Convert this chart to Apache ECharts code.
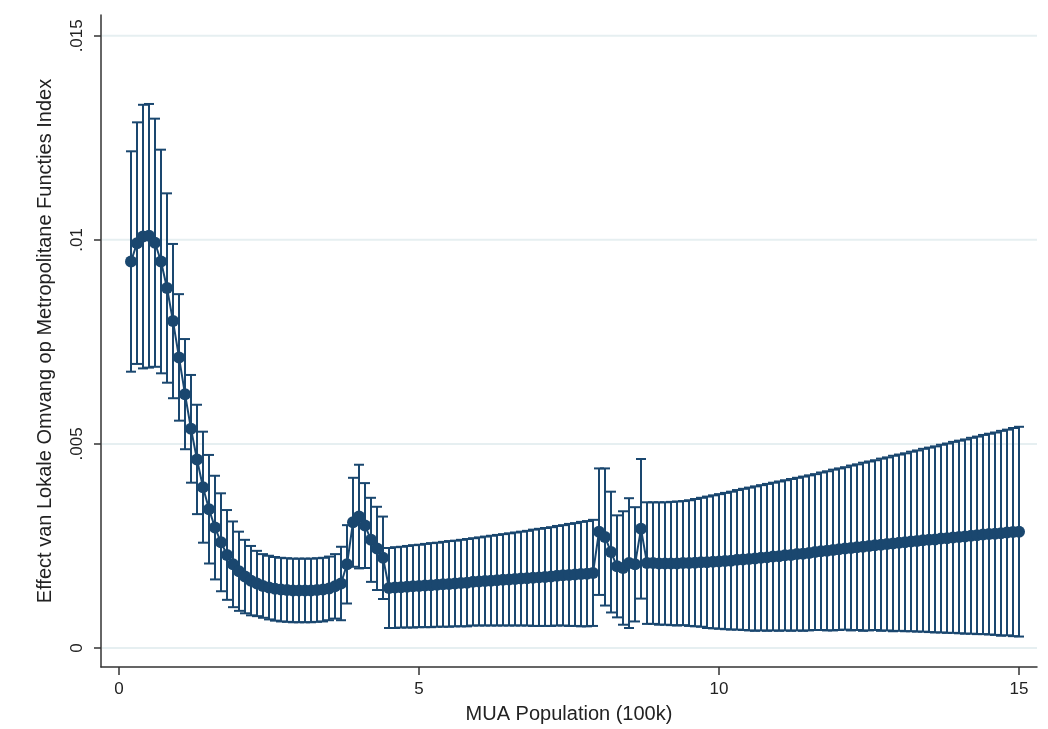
<!DOCTYPE html>
<html><head><meta charset="utf-8">
<script src="https://cdn.jsdelivr.net/npm/echarts@6/dist/echarts.min.js"></script>
<style>html,body{margin:0;padding:0;background:#fff}#c{width:1048px;height:729px}</style>
</head><body><div id="c"></div>
<script>
const xs = [0.2,0.3,0.4,0.5,0.6,0.7,0.8,0.9,1.0,
1.1,1.2,1.3,1.4,1.5,1.6,1.7,1.8,1.9,2.0,
2.1,2.2,2.3,2.4,2.5,2.6,2.7,2.8,2.9,3.0,
3.1,3.2,3.3,3.4,3.5,3.6,3.7,3.8,3.9,4.0,
4.1,4.2,4.3,4.4,4.5,4.6,4.7,4.8,4.9,5.0,
5.1,5.2,5.3,5.4,5.5,5.6,5.7,5.8,5.9,6.0,
6.1,6.2,6.3,6.4,6.5,6.6,6.7,6.8,6.9,7.0,
7.1,7.2,7.3,7.4,7.5,7.6,7.7,7.8,7.9,8.0,
8.1,8.2,8.3,8.4,8.5,8.6,8.7,8.8,8.9,9.0,
9.1,9.2,9.3,9.4,9.5,9.6,9.7,9.8,9.9,10.0,
10.1,10.2,10.3,10.4,10.5,10.6,10.7,10.8,10.9,11.0,
11.1,11.2,11.3,11.4,11.5,11.6,11.7,11.8,11.9,12.0,
12.1,12.2,12.3,12.4,12.5,12.6,12.7,12.8,12.9,13.0,
13.1,13.2,13.3,13.4,13.5,13.6,13.7,13.8,13.9,14.0,
14.1,14.2,14.3,14.4,14.5,14.6,14.7,14.8,14.9,15.0];

const est = [0.00947,0.00992,0.01008,0.01010,0.00993,0.00947,0.00882,0.00801,0.00712,
0.00622,0.00537,0.00462,0.00394,0.00340,0.00295,0.00259,0.00228,0.00205,0.00188,
0.00175,0.00165,0.00158,0.00152,0.00148,0.00145,0.00143,0.00142,0.00141,0.00141,
0.00141,0.00141,0.00142,0.00143,0.00146,0.00151,0.00158,0.00205,0.00308,0.00322,
0.00300,0.00265,0.00244,0.00221,0.00147,0.00148,0.00149,0.00150,0.00151,0.00152,
0.00153,0.00154,0.00155,0.00156,0.00157,0.00158,0.00159,0.00160,0.00162,0.00163,
0.00164,0.00165,0.00166,0.00167,0.00168,0.00169,0.00170,0.00171,0.00172,0.00173,
0.00174,0.00175,0.00177,0.00178,0.00179,0.00180,0.00181,0.00182,0.00184,0.00285,
0.00272,0.00235,0.00200,0.00196,0.00208,0.00205,0.00292,0.00208,0.00208,0.00207,
0.00207,0.00207,0.00207,0.00208,0.00208,0.00209,0.00210,0.00210,0.00211,0.00212,
0.00213,0.00214,0.00216,0.00217,0.00218,0.00219,0.00221,0.00222,0.00224,0.00225,
0.00227,0.00228,0.00230,0.00231,0.00233,0.00235,0.00237,0.00238,0.00240,0.00242,
0.00244,0.00245,0.00247,0.00248,0.00250,0.00252,0.00253,0.00255,0.00256,0.00258,
0.00259,0.00261,0.00262,0.00264,0.00265,0.00266,0.00268,0.00269,0.00271,0.00272,
0.00273,0.00275,0.00276,0.00278,0.00279,0.00280,0.00281,0.00283,0.00284,0.00285];

const upper = [0.01217,0.01288,0.01331,0.01333,0.01297,0.01221,0.01114,0.00990,0.00867,
0.00757,0.00669,0.00596,0.00530,0.00473,0.00422,0.00379,0.00338,0.00310,0.00285,
0.00265,0.00250,0.00238,0.00230,0.00226,0.00223,0.00221,0.00220,0.00219,0.00219,
0.00219,0.00219,0.00220,0.00221,0.00224,0.00230,0.00248,0.00301,0.00417,0.00449,
0.00404,0.00368,0.00346,0.00322,0.00245,0.00247,0.00248,0.00250,0.00252,0.00253,
0.00255,0.00257,0.00258,0.00260,0.00262,0.00263,0.00265,0.00267,0.00269,0.00271,
0.00273,0.00275,0.00277,0.00279,0.00281,0.00283,0.00285,0.00287,0.00290,0.00292,
0.00294,0.00296,0.00299,0.00301,0.00304,0.00306,0.00309,0.00311,0.00314,0.00440,
0.00440,0.00383,0.00325,0.00335,0.00367,0.00345,0.00463,0.00357,0.00357,0.00357,
0.00357,0.00358,0.00359,0.00360,0.00362,0.00365,0.00368,0.00371,0.00374,0.00377,
0.00380,0.00383,0.00387,0.00390,0.00393,0.00396,0.00399,0.00402,0.00405,0.00408,
0.00411,0.00414,0.00417,0.00420,0.00423,0.00426,0.00430,0.00433,0.00437,0.00440,
0.00443,0.00447,0.00450,0.00454,0.00457,0.00460,0.00464,0.00467,0.00471,0.00474,
0.00477,0.00481,0.00484,0.00488,0.00491,0.00494,0.00498,0.00501,0.00505,0.00508,
0.00511,0.00515,0.00518,0.00522,0.00525,0.00528,0.00532,0.00535,0.00539,0.00542];

const lower = [0.00677,0.00696,0.00685,0.00687,0.00689,0.00673,0.00650,0.00612,0.00557,
0.00487,0.00405,0.00328,0.00258,0.00207,0.00168,0.00139,0.00118,0.00100,0.00091,
0.00085,0.00080,0.00078,0.00074,0.00070,0.00067,0.00065,0.00064,0.00063,0.00063,
0.00063,0.00063,0.00064,0.00065,0.00068,0.00072,0.00068,0.00109,0.00199,0.00195,
0.00196,0.00162,0.00142,0.00120,0.00049,0.00049,0.00050,0.00050,0.00050,0.00051,
0.00051,0.00051,0.00052,0.00052,0.00052,0.00053,0.00053,0.00053,0.00055,0.00055,
0.00055,0.00055,0.00055,0.00055,0.00055,0.00055,0.00055,0.00055,0.00054,0.00054,
0.00054,0.00054,0.00055,0.00055,0.00054,0.00054,0.00053,0.00053,0.00054,0.00130,
0.00104,0.00087,0.00075,0.00057,0.00049,0.00065,0.00121,0.00059,0.00059,0.00057,
0.00057,0.00056,0.00055,0.00056,0.00054,0.00053,0.00052,0.00049,0.00048,0.00047,
0.00046,0.00045,0.00045,0.00044,0.00043,0.00042,0.00043,0.00042,0.00043,0.00042,
0.00043,0.00042,0.00043,0.00042,0.00043,0.00044,0.00044,0.00043,0.00043,0.00044,
0.00045,0.00043,0.00044,0.00042,0.00043,0.00044,0.00042,0.00043,0.00041,0.00042,
0.00041,0.00041,0.00040,0.00040,0.00039,0.00038,0.00038,0.00037,0.00037,0.00036,
0.00035,0.00035,0.00034,0.00034,0.00033,0.00032,0.00030,0.00031,0.00029,0.00028];

const xTicks = [0, 5, 10, 15];
const yTicks = [0, 0.005, 0.01, 0.015];
const xTitle = 'MUA Population (100k)';
const yTitle = 'Effect van Lokale Omvang op Metropolitane Functies Index';

const NAVY = '#1a476f';
const FONT = '"Liberation Sans", Arial, sans-serif';

const ciData = xs.map((x, i) => [x, lower[i], upper[i]]);
const ptData = xs.map((x, i) => [x, est[i]]);
const gridData = yTicks.map(v => [0, v]);

const chart = echarts.init(document.getElementById('c'), null, {renderer: 'canvas'});
chart.setOption({
  backgroundColor: '#fff',
  animation: false,
  grid: {left: 101, right: 11, top: 15, bottom: 62, containLabel: false},
  xAxis: {
    type: 'value', min: -0.3, max: 15.3,
    name: xTitle, nameLocation: 'middle', nameGap: 37,
    nameTextStyle: {fontFamily: FONT, fontSize: 20, color: '#222'},
    axisLine: {show: true, onZero: false, lineStyle: {color: '#333', width: 1.5}},
    axisTick: {show: true, length: 8, customValues: xTicks, lineStyle: {color: '#333', width: 1.5}},
    axisLabel: {customValues: xTicks, fontFamily: FONT, fontSize: 17, color: '#222', margin: 14},
    splitLine: {show: false}
  },
  yAxis: {
    type: 'value', min: -0.000466, max: 0.01551,
    name: yTitle, nameLocation: 'middle', nameGap: 46, nameRotate: 90,
    nameTextStyle: {fontFamily: FONT, fontSize: 20, color: '#222'},
    axisLine: {show: true, onZero: false, lineStyle: {color: '#333', width: 1.5}},
    axisTick: {show: true, length: 7, customValues: yTicks, lineStyle: {color: '#333', width: 1.5}},
    axisLabel: {customValues: yTicks, rotate: 90, fontFamily: FONT, fontSize: 17, color: '#222', margin: 15,
      formatter: v => v === 0 ? '0' : String(+v.toFixed(4)).replace(/^0/, '')},
    splitLine: {show: false}
  },
  series: [
    {
      type: 'custom',
      data: gridData,
      encode: {x: 0, y: 1},
      z: 1,
      silent: true,
      renderItem: function (params, api) {
        const y = api.coord([0, api.value(1)])[1];
        const cs = params.coordSys;
        return {type: 'line', shape: {x1: cs.x + 1, y1: y, x2: cs.x + cs.width, y2: y},
          style: {stroke: '#e6eff1', lineWidth: 2}};
      }
    },
    {
      type: 'custom',
      data: ciData,
      encode: {x: 0, y: [1, 2]},
      z: 3,
      silent: true,
      renderItem: function (params, api) {
        const x = api.value(0), lo = api.value(1), hi = api.value(2);
        const pHi = api.coord([x, hi]);
        const pLo = api.coord([x, lo]);
        const hw = 5;
        const st = {stroke: NAVY, lineWidth: 2, fill: null};
        return {type: 'group', children: [
          {type: 'line', shape: {x1: pHi[0], y1: pHi[1], x2: pLo[0], y2: pLo[1]}, style: st},
          {type: 'line', shape: {x1: pHi[0] - hw, y1: pHi[1], x2: pHi[0] + hw, y2: pHi[1]}, style: st},
          {type: 'line', shape: {x1: pLo[0] - hw, y1: pLo[1], x2: pLo[0] + hw, y2: pLo[1]}, style: st}
        ]};
      }
    },
    {
      type: 'line',
      data: ptData,
      z: 4,
      silent: true,
      symbol: 'circle',
      symbolSize: 12,
      showSymbol: true,
      itemStyle: {color: NAVY},
      lineStyle: {color: NAVY, width: 2}
    }
  ]
});
</script>
</body></html>
